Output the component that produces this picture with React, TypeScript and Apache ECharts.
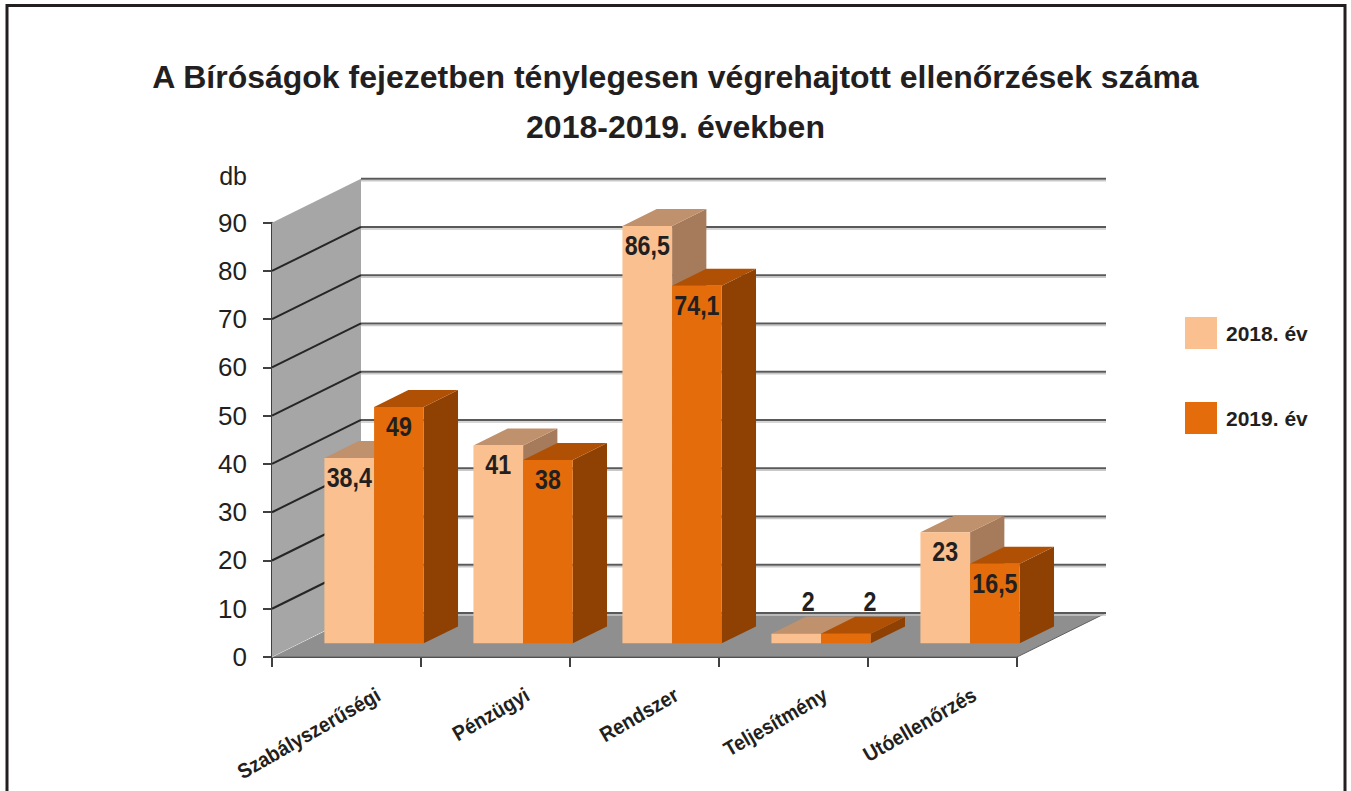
import React, { useEffect, useRef } from "react";
import * as echarts from "echarts";

const categories = ["Szabályszerűségi", "Pénzügyi", "Rendszer", "Teljesítmény", "Utóellenőrzés"];
const seriesNames = ["2018. év", "2019. év"];
const values2018 = [38.4, 41, 86.5, 2, 23];
const values2019 = [49, 38, 74.1, 2, 16.5];
const yTicks = [0, 10, 20, 30, 40, 50, 60, 70, 80, 90];
const titleLines = ["A Bíróságok fejezetben ténylegesen végrehajtott ellenőrzések száma", "2018-2019. években"];
const yUnit = "db";

// projection of the depth axis (pixels)
const DX = 89;
const DY = -44;
const BAR_NEAR = 0.31;
const BAR_FAR = 0.695;

const palettes = [
  { front: "#fac08f", top: "#c0916d", side: "#a67b5b" },
  { front: "#e46c0a", top: "#b05005", side: "#8f4104" },
];

const INK = "#231f20";
const fmt = (v: number) => String(v).replace(".", ",");

function makeBarRenderer(s: number) {
  return (params: any, api: any) => {
    const i = api.value(0);
    const v = api.value(1);
    const base = api.coord([i, 0]);
    const topP = api.coord([i, v]);
    const catW = api.size([1, 0])[0];
    const bw = catW / 3;
    const nx = DX * BAR_NEAR;
    const ny = DY * BAR_NEAR;
    const ddx = DX * (BAR_FAR - BAR_NEAR);
    const ddy = DY * (BAR_FAR - BAR_NEAR);
    const x0 = base[0] - bw + s * bw + nx;
    const x1 = x0 + bw;
    const yb = base[1] + ny;
    const yt = topP[1] + ny;
    const pal = palettes[s];
    const children: any[] = [
      {
        type: "polygon",
        shape: { points: [[x1, yt], [x1 + ddx, yt + ddy], [x1 + ddx, yb + ddy], [x1, yb]] },
        style: { fill: pal.side },
      },
      {
        type: "polygon",
        shape: { points: [[x0, yt], [x1, yt], [x1 + ddx, yt + ddy], [x0 + ddx, yt + ddy]] },
        style: { fill: pal.top },
      },
      {
        type: "rect",
        shape: { x: x0, y: yt, width: bw, height: yb - yt },
        style: { fill: pal.front },
      },
    ];
    const tall = yb - yt > 30;
    const cx = (x0 + x1) / 2;
    children.push({
      type: "text",
      x: tall ? cx : cx + 12 + s * 12,
      y: tall ? yt + 19 : yt + ddy - 16,
      scaleX: 0.83,
      style: {
        text: fmt(v),
        align: "center",
        verticalAlign: "middle",
        font: 'bold 28px "Liberation Sans", Arial, sans-serif',
        fill: INK,
      },
    });
    return { type: "group", children };
  };
}

function renderBackground(params: any, api: any) {
  const cs = params.coordSys;
  const left = cs.x;
  const right = cs.x + cs.width;
  const y0 = api.coord([0, 0])[1];
  const yMax = api.coord([0, yTicks[yTicks.length - 1]])[1];
  const children: any[] = [];
  children.push({
    type: "polygon",
    shape: { points: [[left, y0], [left, yMax], [left + DX, yMax + DY], [left + DX, y0 + DY]] },
    style: { fill: "#a6a6a6" },
  });
  children.push({
    type: "polygon",
    shape: { points: [[left, y0], [left + DX, y0 + DY], [right + DX, y0 + DY], [right, y0]] },
    style: { fill: "#8f8f8f", stroke: "#606060", lineWidth: 1 },
  });
  yTicks.forEach((t, k) => {
    const y = api.coord([0, t])[1];
    children.push({
      type: "line",
      shape: { x1: left + DX, y1: y + DY + 2, x2: right + DX, y2: y + DY + 2 },
      style: { stroke: "#c9c9c9", lineWidth: 1.5 },
    });
    children.push({
      type: "line",
      shape: { x1: left + DX, y1: y + DY, x2: right + DX, y2: y + DY },
      style: { stroke: "#595959", lineWidth: 2 },
    });
    if (t > 0 && k < yTicks.length - 1) {
      children.push({
        type: "line",
        shape: { x1: left, y1: y, x2: left + DX, y2: y + DY },
        style: { stroke: "#262626", lineWidth: 2 },
      });
    }
  });
  children.push({
    type: "line",
    shape: { x1: left, y1: y0, x2: left + DX, y2: y0 + DY },
    style: { stroke: "#dedede", lineWidth: 1 },
  });
  return { type: "group", children };
}

function renderCategoryLabel(params: any, api: any) {
  const i = api.value(0);
  const base = api.coord([i, 0]);
  return {
    type: "text",
    x: base[0] + 32,
    y: base[1] + 36,
    rotation: Math.PI / 6,
    scaleX: 0.92,
    style: {
      text: categories[i],
      align: "right",
      verticalAlign: "middle",
      font: 'bold 21px "Liberation Sans", Arial, sans-serif',
      fill: INK,
    },
  };
}

export default function App() {
  const ref = useRef<HTMLDivElement>(null);
  useEffect(() => {
    if (!ref.current) return;
    const chart = echarts.init(ref.current, undefined, { renderer: "svg" });
    chart.setOption({
      animation: false,
      backgroundColor: "#ffffff",
      color: [palettes[0].front, palettes[1].front],
      title: {
        text: titleLines.join("\n"),
        left: "center",
        top: 47,
        textStyle: {
          fontSize: 32,
          fontWeight: "bold",
          fontFamily: '"Liberation Sans", Arial, sans-serif',
          color: INK,
          lineHeight: 50,
        },
      },
      legend: {
        data: seriesNames,
        orient: "vertical",
        left: 1180,
        top: 312,
        icon: "rect",
        itemWidth: 32,
        itemHeight: 32,
        itemGap: 53,
        textStyle: {
          fontSize: 21,
          fontWeight: "bold",
          fontFamily: '"Liberation Sans", Arial, sans-serif',
          color: INK,
          padding: [0, 0, 0, 4],
        },
      },
      grid: { left: 272, top: 222.7, width: 745, height: 434.3, containLabel: false },
      xAxis: {
        type: "category",
        data: categories,
        axisLine: { show: true, lineStyle: { color: "#404040", width: 2 } },
        axisTick: { show: true, length: 10, lineStyle: { color: "#404040", width: 2 } },
        axisLabel: { show: false },
        splitLine: { show: false },
      },
      yAxis: {
        type: "value",
        min: 0,
        max: 90,
        interval: 10,
        name: yUnit,
        nameLocation: "end",
        nameGap: 47,
        nameTextStyle: {
          fontSize: 25,
          fontFamily: '"Liberation Sans", Arial, sans-serif',
          color: INK,
          align: "right",
          verticalAlign: "middle",
          padding: [0, 25, 0, 0],
        },
        axisLine: { show: true, lineStyle: { color: "#404040", width: 2 } },
        axisTick: { show: true, length: 9, lineStyle: { color: "#404040", width: 2 } },
        axisLabel: {
          margin: 25,
          fontSize: 26,
          fontFamily: '"Liberation Sans", Arial, sans-serif',
          color: INK,
        },
        splitLine: { show: false },
      },
      graphic: [
        {
          type: "rect",
          silent: true,
          z: 100,
          shape: { x: 7, y: 5.5, width: 1338, height: 830 },
          style: { fill: "none", stroke: INK, lineWidth: 3 },
        },
      ],
      series: [
        {
          type: "custom",
          name: "background",
          z: 1,
          clip: false,
          silent: true,
          data: [[0, 0]],
          renderItem: renderBackground,
        },
        {
          type: "custom",
          name: seriesNames[0],
          z: 3,
          clip: false,
          itemStyle: { color: palettes[0].front },
          data: values2018.map((v, i) => [i, v]),
          renderItem: makeBarRenderer(0),
        },
        {
          type: "custom",
          name: seriesNames[1],
          z: 4,
          clip: false,
          itemStyle: { color: palettes[1].front },
          data: values2019.map((v, i) => [i, v]),
          renderItem: makeBarRenderer(1),
        },
        {
          type: "custom",
          name: "labels",
          z: 5,
          clip: false,
          silent: true,
          data: categories.map((c, i) => [i, 0]),
          renderItem: renderCategoryLabel,
        },
      ],
    });
    return () => chart.dispose();
  }, []);
  return (
    <div
      ref={ref}
      style={{ position: "fixed", left: 0, top: 0, width: 1351, height: 791, background: "#fff" }}
    />
  );
}
